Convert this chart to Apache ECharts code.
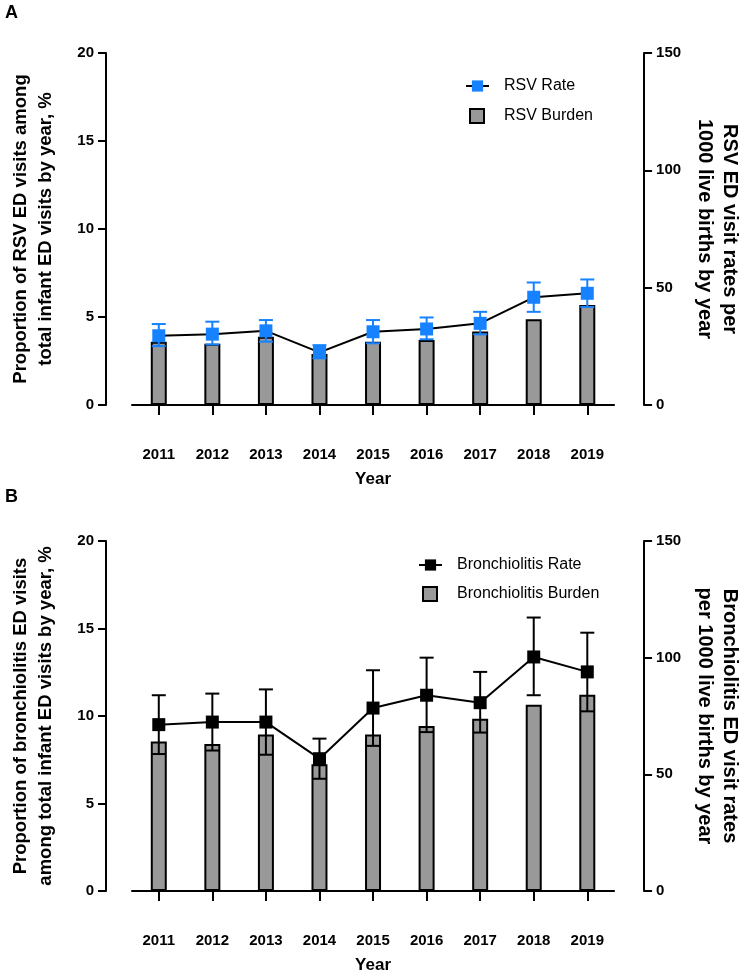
<!DOCTYPE html>
<html><head><meta charset="utf-8">
<script src="https://cdn.jsdelivr.net/npm/echarts@6/dist/echarts.min.js"></script>
<style>html,body{margin:0;padding:0;background:#fff}#c{width:750px;height:978px}</style>
</head><body><div id="c"></div>
<script>
var years = ['2011','2012','2013','2014','2015','2016','2017','2018','2019'];
var rsvBurden = [3.60, 3.48, 3.88, 2.90, 3.60, 3.69, 4.17, 4.87, 5.68];
var rsvRate = [29.5, 30.2, 31.6, 22.4, 31.2, 32.4, 34.8, 45.9, 47.6];
var rsvRateLow = [25.1, 25.8, 27.0, 19.9, 26.3, 28.0, 30.1, 39.7, 41.8];
var rsvRateHigh = [34.5, 35.5, 36.2, 25.5, 36.2, 37.3, 39.7, 52.2, 53.5];
var brBurden = [8.55, 8.40, 8.94, 7.24, 8.94, 9.43, 9.85, 10.65, 11.22];
var brRate = [71.3, 72.4, 72.4, 56.7, 78.4, 83.9, 80.7, 100.3, 93.9];
var brRateLow = [58.7, 60.2, 58.4, 48.1, 62.2, 68.1, 67.9, 83.9, 77.0];
var brRateHigh = [83.9, 84.6, 86.4, 65.3, 94.6, 100.0, 93.9, 117.2, 110.7];
var leftTicks = [0, 5, 10, 15, 20];
var rightTicks = [0, 50, 100, 150];

var FONT = '"Liberation Sans", Arial, sans-serif';
var chart = echarts.init(document.getElementById('c'), null, {renderer: 'canvas'});

function errData(lo, hi) {
  return years.map(function (y, i) { return [i, lo[i], hi[i]]; });
}
function errRender(color) {
  return function (params, api) {
    var i = api.value(0);
    var lo = api.coord([i, api.value(1)]);
    var hi = api.coord([i, api.value(2)]);
    var w = 7;
    var st = {stroke: color, lineWidth: 2};
    return {type: 'group', children: [
      {type: 'line', shape: {x1: lo[0], y1: lo[1], x2: hi[0], y2: hi[1]}, style: st},
      {type: 'line', shape: {x1: lo[0] - w, y1: lo[1], x2: lo[0] + w, y2: lo[1]}, style: st},
      {type: 'line', shape: {x1: hi[0] - w, y1: hi[1], x2: hi[0] + w, y2: hi[1]}, style: st}
    ]};
  };
}
var axisLineStyle = {color: '#000', width: 2};
function xAxis(gi) {
  return {
    type: 'category', gridIndex: gi, data: years, position: 'bottom', offset: 28,
    axisLine: {show: true, lineStyle: axisLineStyle},
    axisTick: {show: true, alignWithLabel: true, length: 10, lineStyle: axisLineStyle},
    axisLabel: {color: '#000', fontFamily: FONT, fontWeight: 'bold', fontSize: 15, margin: 14},
    name: 'Year', nameLocation: 'middle', nameGap: 38,
    nameTextStyle: {color: '#000', fontFamily: FONT, fontWeight: 'bold', fontSize: 17}
  };
}
function yLeft(gi, name) {
  return {
    type: 'value', gridIndex: gi, position: 'left', offset: 26, min: 0, max: 20, interval: 5,
    splitLine: {show: false},
    axisLine: {show: true, lineStyle: axisLineStyle},
    axisTick: {show: true, length: 8, lineStyle: axisLineStyle},
    axisLabel: {color: '#000', fontFamily: FONT, fontWeight: 'bold', fontSize: 15, margin: 12},
    name: name, nameLocation: 'middle', nameGap: 48, nameRotate: 90,
    nameTextStyle: {color: '#000', fontFamily: FONT, fontWeight: 'bold', fontSize: 18.5, lineHeight: 25, align: 'center'}
  };
}
function yRight(gi, name) {
  return {
    type: 'value', gridIndex: gi, position: 'right', offset: 30, min: 0, max: 150, interval: 50,
    splitLine: {show: false},
    axisLine: {show: true, lineStyle: axisLineStyle},
    axisTick: {show: true, length: 8, lineStyle: axisLineStyle},
    axisLabel: {color: '#000', fontFamily: FONT, fontWeight: 'bold', fontSize: 15, margin: 12},
    name: name, nameLocation: 'middle', nameGap: 44, nameRotate: -90,
    nameTextStyle: {color: '#000', fontFamily: FONT, fontWeight: 'bold', fontSize: 20, lineHeight: 25, align: 'center'}
  };
}
function barSeries(name, xi, yi, data) {
  return {name: name, type: 'bar', xAxisIndex: xi, yAxisIndex: yi, data: data, barWidth: 16,
    itemStyle: {color: '#999999', borderColor: '#000', borderWidth: 2}, z: 2, silent: true};
}
function errSeries(xi, yi, lo, hi, color) {
  return {type: 'custom', xAxisIndex: xi, yAxisIndex: yi, data: errData(lo, hi),
    encode: {x: 0, y: [1, 2]}, renderItem: errRender(color), z: 3, silent: true};
}
function lineSeries(name, xi, yi, data, color) {
  return {name: name, type: 'line', xAxisIndex: xi, yAxisIndex: yi, data: data,
    symbol: 'rect', symbolSize: 13, lineStyle: {color: '#000', width: 2},
    itemStyle: {color: color}, z: 4, silent: true};
}
function legend(name, left, top, w, h, pad, icon) {
  var item = {name: name};
  if (icon) item.icon = icon;
  return {data: [item], left: left, top: top, orient: 'vertical', itemWidth: w, itemHeight: h,
    selectedMode: false,
    textStyle: {color: '#000', fontFamily: FONT, fontSize: 16, padding: [0, 0, 0, pad]}};
}
var blue = '#1682FF';
var option = {
  animation: false,
  backgroundColor: '#fff',
  grid: [
    {left: 123, right: 133, top: 53, height: 352},
    {left: 123, right: 133, top: 541, height: 350}
  ],
  xAxis: [xAxis(0), xAxis(1)],
  yAxis: [
    yLeft(0, 'Proportion of RSV ED visits among\ntotal infant ED visits by year, %'),
    yRight(0, 'RSV ED visit rates per\n1000 live births by year'),
    yLeft(1, 'Proportion of bronchiolitis ED visits\namong total infant ED visits by year, %'),
    yRight(1, 'Bronchiolitis ED visit rates\nper 1000 live births by year')
  ],
  legend: [
    legend('RSV Rate', 460, 73, 23, 14, 10, null),
    legend('RSV Burden', 464, 103, 14, 14, 15, 'rect'),
    legend('Bronchiolitis Rate', 413, 552, 23, 14, 10, null),
    legend('Bronchiolitis Burden', 417, 581, 14, 14, 15, 'rect')
  ],
  graphic: [
    {type: 'text', left: 5, top: 4, style: {text: 'A', fontFamily: FONT, fontWeight: 'bold', fontSize: 18, fill: '#000'}},
    {type: 'text', left: 5, top: 488, style: {text: 'B', fontFamily: FONT, fontWeight: 'bold', fontSize: 18, fill: '#000'}}
  ],
  series: [
    barSeries('RSV Burden', 0, 0, rsvBurden),
    errSeries(0, 1, rsvRateLow, rsvRateHigh, blue),
    lineSeries('RSV Rate', 0, 1, rsvRate, blue),
    barSeries('Bronchiolitis Burden', 1, 2, brBurden),
    errSeries(1, 3, brRateLow, brRateHigh, '#000'),
    lineSeries('Bronchiolitis Rate', 1, 3, brRate, '#000')
  ]
};
chart.setOption(option);
</script></body></html>
